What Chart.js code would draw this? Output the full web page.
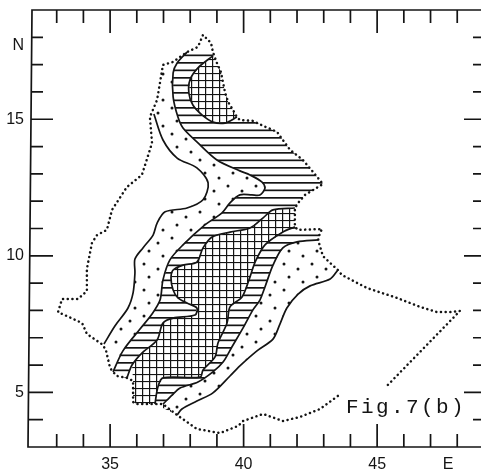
<!DOCTYPE html>
<html>
<head>
<meta charset="utf-8">
<title>Fig.7(b)</title>
<script src="https://cdn.jsdelivr.net/npm/chart.js@4"></script>
<style>
  html, body { margin: 0; padding: 0; background: #fff; overflow: hidden; }
  #wrap { width: 481px; height: 472px; }
</style>
</head>
<body>
<div id="wrap"><canvas id="mapChart" width="481" height="472"></canvas></div>
<script>
// axis ticks, degrees
const lonTicks = [33, 34, 35, 36, 37, 38, 39, 40, 41, 42, 43, 44, 45, 46, 47, 48];
const latTicks = [4, 5, 6, 7, 8, 9, 10, 11, 12, 13, 14, 15, 16, 17, 18];
const lonLabelValues = [35, 40, 45, 47.66];
const lonLabels = ["35", "40", "45", "E"];
const latLabelValues = [5, 10, 15, 17.7];
const latLabels = ["5", "10", "15", "N"];
const figLabel = "Fig.7(b)";
const figPosition = [43.83, 4.25];

// dotted outline, clockwise from the south, [lon, lat]
const borderSouth = [[43.53, 4.87], [42.86, 4.39], [42.11, 4.10], [41.47, 3.95], [40.73, 4.21], [39.98, 3.95], [39.79, 3.77], [39.12, 3.51], [38.25, 3.66], [37.51, 4.17]];
const borderSW1 = [[37.51, 4.17], [36.98, 4.57], [36.01, 4.57], [35.86, 4.65], [35.86, 5.42]];
const borderSW2 = [[35.86, 5.42], [35.63, 5.53], [35.26, 5.60], [35.11, 5.75]];
const borderSW3 = [[35.11, 5.75], [35.00, 5.89], [34.85, 6.52], [34.73, 6.74]];
const borderWest = [[34.73, 6.74], [34.13, 7.14], [33.95, 7.54], [33.05, 7.94], [33.20, 8.42], [33.80, 8.42], [34.13, 8.71], [34.13, 9.52], [34.32, 10.47], [34.51, 10.76], [34.88, 10.95], [35.07, 11.68], [35.63, 12.52], [36.19, 12.96], [36.57, 14.13], [36.49, 15.08]];
const borderNW = [[36.49, 15.08], [36.76, 15.71], [36.98, 16.99], [37.36, 17.10], [37.88, 17.46]];
const borderPeak = [[37.88, 17.46], [38.29, 17.65], [38.48, 18.09], [38.78, 17.79], [38.85, 17.46]];
const borderCross = [[38.85, 17.46], [39.00, 17.06], [39.15, 16.73], [39.30, 16.00], [39.42, 15.63], [39.56, 15.41], [39.75, 15.08]];
const borderNE = [[39.75, 15.08], [39.86, 14.97], [40.35, 14.94], [40.73, 14.76], [41.25, 14.54], [41.47, 14.24], [41.74, 13.88], [42.22, 13.51], [42.60, 13.07], [42.97, 12.63], [42.67, 12.45], [42.30, 12.23], [42.07, 11.97], [41.92, 11.75]];
const borderGate = [[41.92, 11.75], [41.92, 11.06]];
const borderInlet = [[41.92, 11.06], [42.04, 10.95], [42.94, 10.98], [42.86, 10.84], [42.79, 10.58]];
const borderNeck = [[42.79, 10.58], [42.97, 9.99], [43.24, 9.74], [43.53, 9.48]];
const borderEast = [[43.53, 9.48], [43.68, 9.30], [44.62, 8.82], [45.74, 8.46], [46.61, 8.13], [47.24, 7.94], [47.73, 7.94], [48.10, 7.98], [45.29, 5.16]];

// solid contours
const contourWest = [[36.64, 15.19], [36.98, 14.24], [37.51, 13.58], [38.25, 13.22], [38.67, 12.67], [38.48, 12.05], [37.88, 11.75], [37.06, 11.61], [36.76, 11.20], [36.61, 10.76], [36.23, 10.29], [35.93, 9.88], [35.93, 9.37], [35.86, 8.64], [35.67, 8.09], [35.18, 7.43], [34.77, 6.77]];
const contourInner = [[37.88, 17.46], [37.51, 17.06], [37.36, 16.70], [37.36, 15.82], [37.54, 15.08], [37.73, 14.68], [38.25, 14.17], [39.00, 13.51], [39.86, 13.11], [40.24, 12.96], [40.69, 12.70], [40.80, 12.48], [40.61, 12.23], [40.31, 12.23], [39.86, 12.23], [39.49, 11.94], [39.19, 11.57], [38.55, 11.13], [37.73, 10.40], [37.24, 9.85], [36.98, 9.12], [36.87, 8.38], [36.57, 7.87], [36.12, 7.32], [35.48, 6.52], [35.11, 5.75]];
const contourNorthCross = [[38.85, 17.32], [38.29, 16.88], [37.99, 16.44], [37.95, 15.96], [38.10, 15.52], [38.44, 15.16], [38.85, 14.90], [39.30, 14.86], [39.75, 15.08]];
const contourCrossNW = [[41.92, 11.75], [41.10, 11.68], [40.73, 11.39], [40.24, 11.02], [39.49, 10.87], [38.82, 10.69], [38.48, 10.29], [38.25, 9.77], [37.73, 9.66], [37.36, 9.48], [37.28, 9.19], [37.36, 8.75], [37.54, 8.46], [37.88, 8.27], [38.25, 8.09], [38.18, 7.83], [37.36, 7.72], [36.98, 7.54], [36.76, 6.92], [36.19, 6.44], [35.82, 6.00], [35.63, 5.53]];
const contourCrossSE = [[36.68, 4.57], [36.79, 5.20], [36.98, 5.53], [38.37, 5.56], [38.48, 5.82], [38.93, 6.30], [39.04, 6.81], [39.38, 7.54], [39.49, 8.13], [39.94, 8.49], [40.24, 9.23], [40.43, 9.77], [40.80, 10.40], [41.47, 10.87], [41.92, 11.06]];
const contourBandEast = [[42.79, 10.58], [42.00, 10.51], [41.47, 10.29], [41.10, 9.66], [40.80, 8.86], [40.61, 8.38], [40.35, 8.02], [39.98, 7.36], [39.56, 6.66], [39.23, 6.11], [38.85, 5.75], [38.29, 5.38], [37.62, 5.16], [37.32, 4.90], [36.98, 4.57]];
const contourEast = [[43.53, 9.48], [43.24, 9.15], [42.49, 8.90], [42.04, 8.60], [41.62, 8.09], [41.36, 7.50], [41.10, 6.95], [40.50, 6.52], [39.86, 5.97], [39.49, 5.60], [38.85, 4.98], [38.25, 4.68], [37.69, 4.39], [37.51, 4.17]];

const ink = "#141414";
const frameTilt = 2; // the scanned left edge leans by a couple of pixels

const back = (path) => [...path].reverse();

// small tile canvas turned into a fill pattern
function makePattern(w, h, draw) {
    const tile = document.createElement("canvas");
    tile.width = w;
    tile.height = h;
    const c = tile.getContext("2d");
    c.fillStyle = ink;
    draw(c);
    return document.createElement("canvas").getContext("2d").createPattern(tile, "repeat");
}

const stipple = makePattern(28, 26, (c) => {
    [[4, 4], [18, 9], [9, 17], [23, 22]].forEach(([x, y]) => {
        c.beginPath();
        c.arc(x, y, 1.5, 0, Math.PI * 2);
        c.fill();
    });
});
const hatch = makePattern(4, 15, (c) => {
    c.fillRect(0, 2, 4, 1.7);
    c.fillRect(0, 9.5, 4, 1.7);
});
const crossHatch = makePattern(7, 7, (c) => {
    c.fillRect(2, 0, 1.2, 7);
    c.fillRect(0, 3, 7, 1.1);
});

const regions = [
    { fill: stipple, path: [...contourWest, ...back(borderSW3), ...back(contourInner), ...back(borderNW)] },
    { fill: hatch, path: [...contourInner, ...back(borderSW2), ...back(contourCrossNW), ...back(borderNE), ...back(contourNorthCross), borderCross[0]] },
    { fill: crossHatch, path: [...contourNorthCross, ...back(borderCross)] },
    { fill: crossHatch, path: [...contourCrossNW.slice(0, -1), ...back(borderSW1), ...contourCrossSE, ...back(borderGate)] },
    { fill: hatch, path: [...contourCrossSE, ...borderInlet, ...contourBandEast] },
    { fill: stipple, path: [...contourBandEast, borderSW1[0], ...back(contourEast), ...back(borderNeck)] },
];

const contours = [contourWest, contourInner, contourNorthCross, contourCrossNW, contourCrossSE, contourBandEast, contourEast];

const outline = [...borderSouth, ...borderSW1, ...borderSW2, ...borderSW3, ...borderWest, ...borderNW, ...borderPeak, ...borderCross, ...borderNE, ...borderGate, ...borderInlet, ...borderNeck, ...borderEast];

// frame, inward ticks and the figure caption
const framePlugin = {
    id: "frame",
    afterDatasetsDraw(chart) {
        const { ctx, chartArea: a, scales: { x, y } } = chart;
        const midY = (a.top + a.bottom) / 2;
        const leftEdge = (py) => a.left + frameTilt * (midY - py) / (midY - a.top);
        ctx.save();
        ctx.strokeStyle = ink;
        ctx.lineWidth = 1.7;
        ctx.beginPath();
        ctx.moveTo(a.right, a.top);
        ctx.lineTo(leftEdge(a.top), a.top);
        ctx.lineTo(leftEdge(a.bottom), a.bottom);
        ctx.lineTo(a.right, a.bottom);
        lonTicks.forEach((v) => {
            const px = x.getPixelForValue(v);
            const len = v % 5 === 0 ? 23 : 13;
            ctx.moveTo(px, a.bottom);
            ctx.lineTo(px, a.bottom - len);
            ctx.moveTo(px, a.top);
            ctx.lineTo(px, a.top + len);
        });
        latTicks.forEach((v) => {
            const py = y.getPixelForValue(v);
            const len = v % 5 === 0 ? 23 : 13;
            ctx.moveTo(leftEdge(py), py);
            ctx.lineTo(a.left + len, py);
            ctx.moveTo(a.right, py);
            ctx.lineTo(a.right - (v % 5 === 0 ? 17 : 8), py);
        });
        ctx.stroke();

        ctx.fillStyle = ink;
        ctx.font = '21px "Liberation Mono"';
        ctx.letterSpacing = "2.4px";
        ctx.fillText(figLabel, x.getPixelForValue(figPosition[0]), y.getPixelForValue(figPosition[1]));
        ctx.restore();
    },
};

document.addEventListener("DOMContentLoaded", () => {
    const datasets = [
        {
            data: outline,
            showLine: true,
            pointRadius: 0,
            borderColor: ink,
            borderWidth: 2.5,
            borderDash: [0.1, 4.6],
            borderCapStyle: "round",
            fill: false,
        },
        ...contours.map((path) => ({
            data: path,
            showLine: true,
            pointRadius: 0,
            borderColor: ink,
            borderWidth: 1.7,
            tension: 0.3,
            fill: false,
        })),
        ...regions.map((r) => ({
            data: r.path,
            showLine: true,
            pointRadius: 0,
            borderWidth: 0,
            borderColor: "transparent",
            backgroundColor: r.fill,
            fill: "shape",
        })),
    ];

    new Chart(document.getElementById("mapChart").getContext("2d"), {
        type: "scatter",
        data: { datasets },
        options: {
            responsive: false,
            animation: false,
            layout: { autoPadding: false, padding: { top: 10, right: 0, left: 0, bottom: 0 } },
            plugins: { legend: { display: false }, tooltip: { enabled: false } },
            scales: {
                x: {
                    type: "linear",
                    min: 32,
                    max: 48.89,
                    afterFit: (axis) => {
                        axis.height = 25;
                        axis.paddingLeft = axis.paddingRight = 0;
                    },
                    afterBuildTicks: (axis) => { axis.ticks = lonLabelValues.map((value) => ({ value })); },
                    grid: { display: false, drawTicks: false },
                    border: { display: false },
                    ticks: {
                        autoSkip: false,
                        maxRotation: 0,
                        padding: 8,
                        color: ink,
                        font: { family: "Liberation Sans", size: 16 },
                        callback: (v) => lonLabels[lonLabelValues.indexOf(v)],
                    },
                },
                y: {
                    type: "linear",
                    min: 3,
                    max: 19,
                    afterFit: (axis) => {
                        axis.width = 30;
                        axis.paddingTop = axis.paddingBottom = 0;
                    },
                    afterBuildTicks: (axis) => { axis.ticks = latLabelValues.map((value) => ({ value })); },
                    grid: { display: false, drawTicks: false },
                    border: { display: false },
                    ticks: {
                        autoSkip: false,
                        padding: 6,
                        color: ink,
                        font: { family: "Liberation Sans", size: 16 },
                        callback: (v) => latLabels[latLabelValues.indexOf(v)],
                    },
                },
            },
        },
        plugins: [framePlugin],
    });
});
</script>
</body>
</html>
